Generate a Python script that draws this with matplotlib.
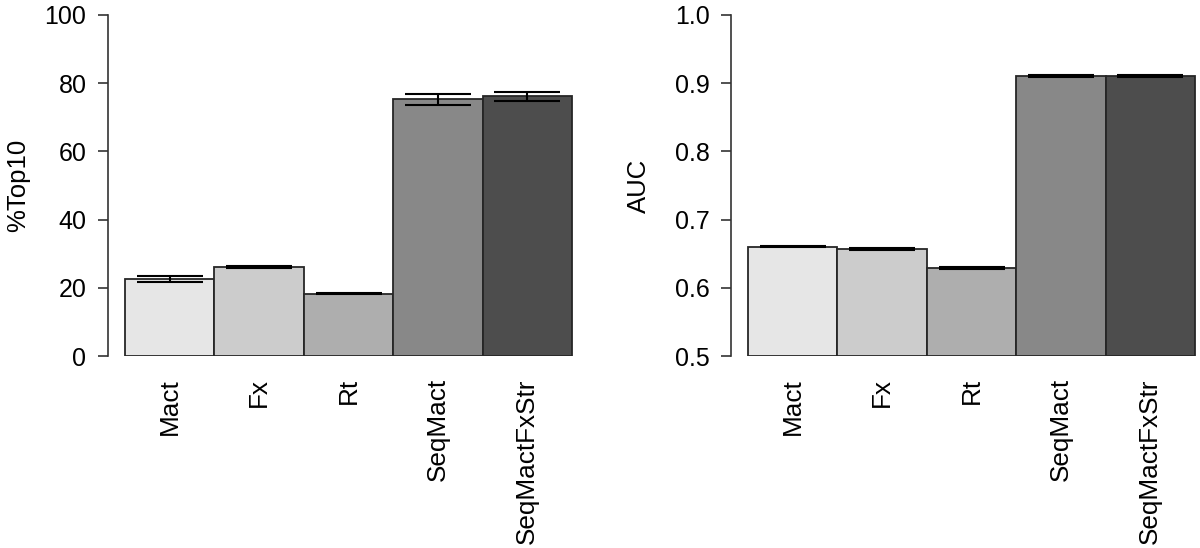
import numpy as np
import matplotlib
matplotlib.use("Agg")
import matplotlib.pyplot as plt

plt.rcParams['font.family'] = ['Liberation Sans', 'DejaVu Sans']

methods = ["Mact", "Fx", "Rt", "SeqMact", "SeqMactFxStr"]
colors = ["#E6E6E6", "#CCCCCC", "#AEAEAE", "#888888", "#4D4D4D"]

top10 = [22.5, 26.2, 18.3, 75.3, 76.2]
top10_err = [0.9, 0.3, 0.15, 1.6, 1.3]

auc = [0.660, 0.657, 0.629, 0.911, 0.911]
auc_err = [0.0008, 0.0015, 0.0018, 0.0015, 0.0015]

W, H = 1200, 548
fig = plt.figure(figsize=(W / 100, H / 100), dpi=100)

bot = (H - 356) / H
hgt = (356 - 15) / H
unit = 89.4  # px per bar
xlo = -0.5 - 17 / unit
xhi = 4.55
aw = (xhi - xlo) * unit / W

panels = [
    (108, top10, top10_err, (0, 100), [0, 20, 40, 60, 80, 100], "%Top10", 18, lambda v: "%d" % v),
    (731, auc, auc_err, (0.5, 1.0), [0.5, 0.6, 0.7, 0.8, 0.9, 1.0], "AUC", 639, lambda v: "%.1f" % v),
]

x = np.arange(len(methods))
for left_px, vals, errs, ylim, yticks, ylab, lab_px, fmt in panels:
    ax = fig.add_axes([left_px / W, bot, aw, hgt])
    ax.bar(x, np.array(vals) - ylim[0], bottom=ylim[0], width=1.0, color=colors,
           edgecolor="#262626", linewidth=1.3)
    ax.errorbar(x, vals, yerr=errs, fmt="none", ecolor="black", elinewidth=1.5,
                capsize=23.5, capthick=1.5, clip_on=False)
    ax.set_xlim(xlo, xhi)
    ax.set_ylim(*ylim)
    for s in ["top", "right", "bottom"]:
        ax.spines[s].set_visible(False)
    ax.spines["left"].set_color("#333333")
    ax.spines["left"].set_linewidth(1.2)
    ax.set_yticks(yticks)
    ax.set_yticklabels([fmt(v) for v in yticks])
    ax.tick_params(axis="y", length=7.5, width=1.2, color="#333333", pad=8, labelsize=18)
    ax.set_xticks(x)
    ax.set_xticklabels(methods, rotation=90, va="top", ha="center", fontsize=18.8)
    ax.tick_params(axis="x", length=0, pad=16)
    fig.text(lab_px / W, bot + hgt / 2, ylab, rotation=90, ha="center", va="center", fontsize=18.5)

fig.savefig("out.png", dpi=100)
